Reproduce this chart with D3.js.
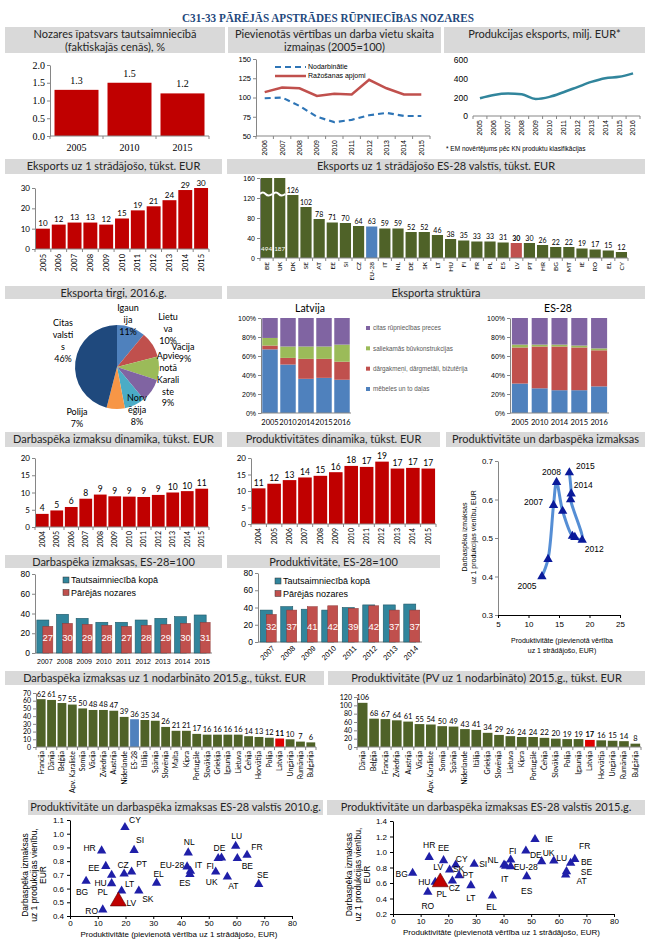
<!DOCTYPE html>
<html lang="lv">
<head>
<meta charset="UTF-8"/>
<title>C31-33 Pārējās apstrādes rūpniecības nozares</title>
<script src="https://d3js.org/d3.v7.min.js"></script>
<style>
    body { margin: 0; background: #fff; }
</style>
</head>
<body>
<div id="chart"></div>
<script>
// ---- data ----
var shareYears = ["2005", "2010", "2015"];
var shareVals = [1.3, 1.5, 1.2];

var idxYears = ["2006","2007","2008","2009","2010","2011","2012","2013","2014","2015"];
var idxEmployed = [99, 100, 89, 75, 68, 71, 77, 80, 76, 76];
var idxOutput = [107, 113, 112, 102, 105, 104, 123, 112, 104, 104];

var expYears = ["2005","2006","2007","2008","2009","2010","2011","2012","2013","2014","2015","2016"];
var expVals = [190, 225, 240, 232, 182, 205, 255, 310, 365, 405, 420, 457];

var pwYears = ["2005","2006","2007","2008","2009","2010","2011","2012","2013","2014","2015"];
var pwVals = [10, 12, 13, 13, 12, 15, 19, 21, 24, 29, 30];

var euCodes = ["BE","UK","DK","SE","AT","EE","SI","CZ","EU-28","IT","NL","DE","SK","LT","HU","FI","FR","PL","ES","LV","PT","HR","BG","MT","IE","RO","EL","CY"];
var euExport = [494, 187, 126, 102, 78, 71, 70, 64, 63, 59, 59, 52, 52, 46, 38, 35, 33, 33, 31, 30, 30, 26, 22, 22, 19, 17, 15, 12];

var mktNames = ["Igaunija", "Lietuva", "Vācija", "Apvienotā Karaliste", "Norvēģija", "Polija", "Citas valstis"];
var mktShare = [11, 10, 9, 9, 8, 7, 46];
var mktLabelParts = [["Igaun","ija"], ["Lietu","va"], ["Vācija"], ["Apvie","notā","Karali","ste"], ["Norv","ēģija"], ["Polija"], ["Citas","valsti","s"]];

var structYears = ["2005", "2010", "2014", "2015", "2016"];
var structNames = ["mēbeles un to daļas", "dārgakmeņi, dārgmetāli, bižutērija", "saliekamās būvkonstrukcijas", "citas rūpniecības preces"];
var lvMebeles = [67, 51, 36, 37, 35];
var lvDarg = [4, 7, 21, 20, 19];
var lvSaliek = [8, 12, 13, 13, 18];
var lvCitas = [21, 30, 30, 30, 28];
var euMebeles = [31, 26, 24, 24, 28];
var euDarg = [38, 44, 46, 45, 38];
var euSaliek = [3, 2, 2, 2, 2];
var euCitas = [28, 28, 28, 29, 32];

var dynYears = ["2004","2005","2006","2007","2008","2009","2010","2011","2012","2013","2014","2015"];
var lcDyn = [3.8, 4.8, 5.8, 8.2, 9.4, 8.9, 8.8, 8.7, 9.3, 10.0, 10.4, 11.1];
var prDyn = [10.8, 12.2, 13.3, 14.1, 14.6, 15.7, 17.6, 17.3, 18.9, 16.8, 17.0, 16.8];

var pathYears = ["2005","2006","2007","2008","2009","2010","2011","2012","2013","2014","2015"];
var pathProd = [12.2, 13.2, 14.1, 14.6, 15.6, 17.2, 17.6, 18.8, 16.9, 17.0, 16.7];
var pathCost = [0.40, 0.445, 0.585, 0.645, 0.57, 0.505, 0.502, 0.495, 0.60, 0.615, 0.67];
var pathLabelled = ["2005", "2007", "2008", "2012", "2014", "2015"];

var lcYears = ["2007","2008","2009","2010","2011","2012","2013","2014","2015"];
var lcTotal = [33.4, 39.2, 35.1, 31.1, 31.1, 33.4, 35.1, 36.8, 38.5];
var lcSector = [27, 30, 29, 28, 27, 28, 29, 30, 31];
var prYears = ["2007","2008","2009","2010","2011","2012","2013","2014"];
var prTotal = [37, 41, 38, 37, 40, 43, 43, 44];
var prSector = [32, 37, 41, 42, 39, 42, 37, 37];
var seriesNames = ["Tautsaimniecībā kopā", "Pārējās nozares"];

var lc15Names = ["Francija","Dānija","Beļģija","Apv. Karaliste","Somija","Vācija","Zviedrija","Austrija","Nīderlande","ES-28","Itālija","Spānija","Slovēnija","Malta","Kipra","Portugāle","Slovākija","Grieķija","Igaunija","Lietuva","Čehija","Horvātija","Polija","Latvija","Ungārija","Rumānija","Bulgārija"];
var lc15Vals = [62, 61, 57, 55, 50, 48, 48, 47, 39, 36, 35, 34, 26, 21, 21, 17, 16, 16, 16, 16, 14, 13, 12, 11, 10, 7, 6];
var pr15Names = ["Dānija","Beļģija","Francija","Zviedrija","Austrija","Vācija","Apv. Karaliste","Somija","Spānija","Nīderlande","Itālija","Grieķija","Slovēnija","Lietuva","Kipra","Portugāle","Čehija","Slovākija","Polija","Igaunija","Latvija","Horvātija","Ungārija","Rumānija","Bulgārija"];
var pr15Vals = [106, 68, 67, 64, 61, 55, 54, 50, 49, 43, 41, 34, 29, 26, 24, 24, 22, 20, 19, 19, 17, 16, 15, 14, 8];

var sc10Codes = ["CY","SI","HR","NL","LU","DE","FI","FR","BE","EE","CZ","PT","HU","PL","LT","SK","LV","RO","BG","EL","EU-28","IT","ES","UK","AT","SE"];
var sc10Prod = [19.8, 23.1, 11.4, 42.6, 59.7, 54.6, 53.4, 63.8, 60.3, 12.9, 19.5, 22.2, 15.0, 15.0, 18.6, 24.8, 17.4, 11.8, 5.8, 31.2, 42.2, 43.4, 43.2, 52.5, 56.7, 68.0];
var sc10Cost = [1.046, 0.88, 0.876, 0.861, 0.91, 0.824, 0.82, 0.844, 0.82, 0.763, 0.707, 0.722, 0.698, 0.637, 0.583, 0.583, 0.507, 0.446, 0.654, 0.641, 0.759, 0.727, 0.705, 0.722, 0.685, 0.632];
var sc15Codes = ["IE","HR","EE","DE","FI","UK","LU","FR","BE","SE","AT","NL","IT","EU-28","ES","EL","LT","SI","CY","SK","PT","CZ","HU","PL","RO","BG","LV"];
var sc15Prod = [51.4, 13.1, 18.3, 48.1, 42.6, 53.8, 58.2, 65.8, 64.3, 62.8, 62.5, 40.2, 40.8, 42.6, 48.4, 36.0, 28.2, 29.4, 22.7, 20.5, 23.9, 21.5, 15.3, 16.5, 12.6, 7.1, 17.1];
var sc15Cost = [1.164, 0.933, 0.89, 1.014, 0.898, 0.877, 0.886, 0.907, 0.856, 0.749, 0.706, 0.834, 0.82, 0.813, 0.684, 0.436, 0.568, 0.843, 0.834, 0.77, 0.697, 0.628, 0.611, 0.61, 0.483, 0.727, 0.611];

// ---- drawing ----
var ARIAL = "Liberation Sans, Arial, sans-serif",
    SERIF = "Liberation Serif, serif",
    LATO = "Lato, sans-serif",
    AX = "#868686";

var svg = d3.select("#chart").append("svg")
    .attr("width", 656).attr("height", 950)
    .attr("font-family", LATO);

function txt(x, y, s, o) {
    o = o || {};
    return svg.append("text").attr("x", x).attr("y", y).attr("dy", "0.35em")
        .attr("text-anchor", o.anchor || "middle")
        .attr("font-size", o.size || 8)
        .attr("font-family", o.font || LATO)
        .attr("font-weight", o.weight || "normal")
        .attr("fill", o.fill || "#000")
        .text(s);
}

function header(x0, x1, y0, y1, lines) {
    svg.append("rect").attr("x", x0).attr("y", y0).attr("width", x1 - x0).attr("height", y1 - y0).attr("fill", "#D9D9D9");
    lines.forEach(function (l, i) {
        txt((x0 + x1) / 2, y0 + 7.5 + i * 12.5, l, {size: 11, fill: "#262626"});
    });
}

function yAxis(y, x, vals, fmt, size, font, noLine) {
    var g = svg.append("g").attr("transform", "translate(" + x + ",0)")
        .call(d3.axisLeft(y).tickValues(vals).tickFormat(fmt).tickSize(noLine ? 0 : 3).tickSizeOuter(0));
    g.select(".domain").attr("stroke", noLine ? "none" : AX);
    g.selectAll(".tick line").attr("stroke", AX);
    g.selectAll(".tick text").attr("font-size", size).attr("font-family", font || LATO).attr("fill", "#000").attr("x", -5);
    return g;
}

function xBase(x, yb) {
    var r = x.range(), off = (x.step() - x.bandwidth()) / 2;
    svg.append("line").attr("x1", r[0]).attr("x2", r[1]).attr("y1", yb).attr("y2", yb).attr("stroke", AX);
    var b = x.domain().map(function (d) { return x(d) - off; }).concat([r[1]]);
    svg.append("g").selectAll("line").data(b).join("line")
        .attr("x1", function (d) { return d; }).attr("x2", function (d) { return d; })
        .attr("y1", yb).attr("y2", yb + 3).attr("stroke", AX);
}

function vbar(cats, vals, range, yr, max, pad, color) {
    var x = d3.scaleBand().domain(cats).range(range).paddingInner(pad).paddingOuter(pad / 2);
    var y = d3.scaleLinear().domain([0, max]).range(yr).clamp(true);
    svg.append("g").selectAll("rect").data(vals).join("rect")
        .attr("x", function (d, i) { return x(cats[i]); })
        .attr("width", x.bandwidth())
        .attr("y", function (d) { return y(d); })
        .attr("height", function (d) { return yr[0] - y(d); })
        .attr("fill", function (d, i) { return color(i); });
    return {x: x, y: y};
}

function valLabels(s, cats, vals, size, fmt, bold, skip) {
    svg.append("g").selectAll("text").data(vals).join("text")
        .attr("x", function (d, i) { return s.x(cats[i]) + s.x.bandwidth() / 2; })
        .attr("y", function (d) { return s.y(d) - 2.5; })
        .attr("text-anchor", "middle").attr("font-size", size)
        .attr("font-weight", function (d, i) { return bold && bold(i) ? "bold" : "normal"; })
        .text(function (d, i) { return skip && skip(i) ? "" : fmt(d); });
}

function catLabels(x, y, size, font, rotate) {
    svg.append("g").selectAll("text").data(x.domain()).join("text")
        .attr("transform", function (d) {
            return "translate(" + (x(d) + x.bandwidth() / 2) + "," + y + ")" + (rotate ? " rotate(-90)" : "");
        })
        .attr("text-anchor", rotate ? "end" : "middle").attr("dy", "0.35em")
        .attr("font-size", size).attr("font-family", font || LATO)
        .text(function (d) { return d; });
}

var red = function () { return "#C00000"; };
var f0 = d3.format(".0f");

// title
txt(328, 17, "C31-33 PĀRĒJĀS APSTRĀDES RŪPNIECĪBAS NOZARES", {size: 13.5, font: SERIF, weight: "bold", fill: "#1F497D"})
    .attr("textLength", 292).attr("lengthAdjust", "spacingAndGlyphs");

// ---- row 1 ----
header(5, 225, 27, 53, ["Nozares īpatsvars tautsaimniecībā", "(faktiskajās cenās), %"]);
var p1 = vbar(shareYears, shareVals, [50, 209], [136, 65], 2, 0.17, red);
yAxis(p1.y, 50, [0, 0.5, 1, 1.5, 2], d3.format(".1f"), 10, SERIF);
xBase(p1.x, 136);
catLabels(p1.x, 147, 10, SERIF, false);
svg.append("g").selectAll("text").data(shareVals).join("text")
    .attr("x", function (d, i) { return p1.x(shareYears[i]) + p1.x.bandwidth() / 2; })
    .attr("y", function (d) { return p1.y(d) - 6; })
    .attr("text-anchor", "middle").attr("font-size", 10).attr("font-family", SERIF)
    .text(function (d) { return d3.format(".1f")(d); });

header(228, 441, 27, 53, ["Pievienotās vērtības un darba vietu skaita", "izmaiņas (2005=100)"]);
var x2 = d3.scaleBand().domain(idxYears).range([256, 430]);
var y2 = d3.scaleLinear().domain([50, 150]).range([136, 59]);
yAxis(y2, 256, [50, 75, 100, 125, 150], d3.format("d"), 7.5, ARIAL);
xBase(x2, 136);
catLabels(x2, 140, 7, ARIAL, true);
var line2 = d3.line().x(function (d, i) { return x2(idxYears[i]) + x2.bandwidth() / 2; }).y(function (d) { return y2(d); });
svg.append("path").attr("d", line2(idxEmployed)).attr("fill", "none").attr("stroke", "#2E75B6").attr("stroke-width", 2.2).attr("stroke-dasharray", "6,4");
svg.append("path").attr("d", line2(idxOutput)).attr("fill", "none").attr("stroke", "#C0504D").attr("stroke-width", 2.5);
svg.append("line").attr("x1", 275).attr("x2", 306).attr("y1", 67).attr("y2", 67).attr("stroke", "#2E75B6").attr("stroke-width", 2.2).attr("stroke-dasharray", "6,4");
svg.append("line").attr("x1", 275).attr("x2", 306).attr("y1", 76).attr("y2", 76).attr("stroke", "#C0504D").attr("stroke-width", 2.5);
txt(308, 67, "Nodarbinātie", {anchor: "start", size: 7, font: ARIAL});
txt(308, 76, "Ražošanas apjomi", {anchor: "start", size: 7, font: ARIAL});

header(444, 645, 27, 53, ["Produkcijas eksports, milj. EUR*"]);
var x3 = d3.scaleBand().domain(expYears).range([473, 640]);
var y3 = d3.scaleLinear().domain([0, 600]).range([116, 60]);
yAxis(y3, 473, [0, 200, 400, 600], d3.format("d"), 8.5, ARIAL, true);
xBase(x3, 116);
catLabels(x3, 120, 7, ARIAL, true);
svg.append("path")
    .attr("d", d3.line().x(function (d, i) { return x3(expYears[i]) + x3.bandwidth() / 2; }).y(function (d) { return y3(d); }).curve(d3.curveMonotoneX)(expVals))
    .attr("fill", "none").attr("stroke", "#31859C").attr("stroke-width", 2.5);
txt(446, 149, "* EM novērtējums pēc KN produktu klasifikācijas", {anchor: "start", size: 6.5, font: ARIAL});

// ---- row 2 ----
header(5, 222, 159, 174, ["Eksports uz 1 strādājošo, tūkst. EUR"]);
var p21 = vbar(pwYears, pwVals, [35, 209], [249, 188], 30, 0.12, red);
yAxis(p21.y, 35, [0, 10, 20, 30], f0, 8);
xBase(p21.x, 249);
catLabels(p21.x, 254, 7.5, LATO, true);
valLabels(p21, pwYears, pwVals, 8, f0);

header(227, 645, 159, 174, ["Eksports uz 1 strādājošo ES-28 valstīs, tūkst. EUR"]);
var euColor = function (i) { return euCodes[i] === "EU-28" ? "#4F81BD" : euCodes[i] === "LV" ? "#C0504D" : "#4F6228"; };
var p22 = vbar(euCodes, euExport, [260, 628], [258, 178], 160, 0.15, euColor);
yAxis(p22.y, 260, [0, 40, 80, 120, 160], f0, 7, ARIAL);
xBase(p22.x, 258);
catLabels(p22.x, 262, 6.5, LATO, true);
valLabels(p22, euCodes, euExport, 7, f0,
    function (i) { return euCodes[i] === "LV"; },
    function (i) { return euExport[i] > 160; });
euExport.forEach(function (v, i) {
    if (v <= 160) return;
    var bx = p22.x(euCodes[i]), bw = p22.x.bandwidth(), by = p22.y(128);
    svg.append("path").attr("d", "M" + (bx - 1) + "," + by + " q" + (bw / 4) + ",-3 " + (bw / 2) + ",0 t" + (bw / 2 + 1) + ",0")
        .attr("fill", "none").attr("stroke", "#fff").attr("stroke-width", 2);
    txt(bx + bw / 2, 249, f0(v), {size: 6.3, fill: "#fff"});
});

// ---- row 3 ----
header(5, 222, 286, 299, ["Eksporta tirgi, 2016.g."]);
var pieColors = ["#4F81BD", "#C0504D", "#9BBB59", "#8064A2", "#4BACC6", "#F79646", "#1F497D"];
var pcx = 117, pcy = 367;
var arcs = d3.pie().sort(null).value(function (d) { return d; })(mktShare);
svg.append("g").attr("transform", "translate(" + pcx + "," + pcy + ")")
    .selectAll("path").data(arcs).join("path")
    .attr("d", d3.arc().innerRadius(0).outerRadius(42))
    .attr("fill", function (d, i) { return pieColors[i]; });
// label anchors as placed in the original (relative to pie centre)
var pieLabelAt = [[11, -59], [51, -50], [66, -20], [51, -11], [20, 31], [-40, 45], [-54, -44]];
mktShare.forEach(function (v, i) {
    var lines = mktLabelParts[i].concat([v + "%"]);
    lines.forEach(function (l, k) {
        var dx = (i === 2 && k === 1) ? 2 : 0;
        txt(pcx + pieLabelAt[i][0] + dx, pcy + pieLabelAt[i][1] + k * 11.8, l, {size: 9});
    });
});

header(227, 645, 286, 299, ["Eksporta struktūra"]);
var structColors = ["#4F81BD", "#C0504D", "#9BBB59", "#8064A2"];
function stacked(cats, series, range, yr, pad) {
    var x = d3.scaleBand().domain(cats).range(range).paddingInner(pad).paddingOuter(pad / 2);
    var y = d3.scaleLinear().domain([0, 100]).range(yr);
    var rows = cats.map(function (c, i) {
        var o = {cat: c};
        series.forEach(function (s, k) { o["s" + k] = s[i]; });
        return o;
    });
    var st = d3.stack().keys(series.map(function (s, k) { return "s" + k; }))(rows);
    svg.append("g").selectAll("g").data(st).join("g").attr("fill", function (d, k) { return structColors[k]; })
        .selectAll("rect").data(function (d) { return d; }).join("rect")
        .attr("x", function (d) { return x(d.data.cat); }).attr("width", x.bandwidth())
        .attr("y", function (d) { return y(d[1]); }).attr("height", function (d) { return y(d[0]) - y(d[1]); });
    yAxis(y, range[0], [0, 20, 40, 60, 80, 100], function (d) { return d + "%"; }, 7, ARIAL);
    svg.append("line").attr("x1", range[0]).attr("x2", range[1]).attr("y1", yr[0]).attr("y2", yr[0]).attr("stroke", AX);
    catLabels(x, 422, 7.5, LATO, false);
    return x;
}
stacked(structYears, [lvMebeles, lvDarg, lvSaliek, lvCitas], [261, 351], [413, 318], 0.14);
txt(310, 308, "Latvija", {size: 10.5});
stacked(structYears, [euMebeles, euDarg, euSaliek, euCitas], [510, 609], [413, 318], 0.19);
txt(558, 308, "ES-28", {size: 10.5});
var legY = d3.scalePoint().domain(structNames.slice().reverse()).range([328, 389]);
structNames.forEach(function (n, k) {
    svg.append("rect").attr("x", 366).attr("y", legY(n) - 2).attr("width", 4).attr("height", 4).attr("fill", structColors[k]);
    txt(373, legY(n), n, {anchor: "start", size: 6.3, font: ARIAL, fill: "#595959"});
});

// ---- row 4 ----
header(5, 222, 432, 447, ["Darbaspēka izmaksu dinamika, tūkst. EUR"]);
var p41 = vbar(dynYears, lcDyn, [35, 209], [527, 458], 20, 0.12, red);
yAxis(p41.y, 35, [0, 5, 10, 15, 20], f0, 8);
xBase(p41.x, 527);
catLabels(p41.x, 531, 7, LATO, true);
valLabels(p41, dynYears, lcDyn, 8.5, f0);

header(227, 440, 432, 447, ["Produktivitātes dinamika, tūkst. EUR"]);
var p42 = vbar(dynYears, prDyn, [251, 436], [524, 458], 20, 0.12, red);
yAxis(p42.y, 251, [0, 5, 10, 15, 20], f0, 8);
xBase(p42.x, 524);
catLabels(p42.x, 528, 7, LATO, true);
valLabels(p42, dynYears, prDyn, 8.5, f0);

header(446, 645, 432, 447, ["Produktivitāte un darbaspēka izmaksas"]);
var x43 = d3.scaleLinear().domain([5, 25]).range([498, 620]);
var y43 = d3.scaleLinear().domain([0.3, 0.7]).range([615, 461]);
yAxis(y43, 498, [0.3, 0.4, 0.5, 0.6, 0.7], d3.format(".1f"), 8, ARIAL);
var gx43 = svg.append("g").attr("transform", "translate(0,615)")
    .call(d3.axisBottom(x43).tickValues([5, 10, 15, 20, 25]).tickSize(3).tickSizeOuter(0));
gx43.selectAll("path,line").attr("stroke", "#000");
gx43.selectAll("text").attr("font-size", 8).attr("font-family", ARIAL);
svg.append("path")
    .attr("d", d3.line().x(function (d, i) { return x43(pathProd[i]); }).y(function (d) { return y43(d); }).curve(d3.curveCatmullRom)(pathCost))
    .attr("fill", "none").attr("stroke", "#558ED5").attr("stroke-width", 3);
svg.append("g").selectAll("path").data(pathCost).join("path")
    .attr("transform", function (d, i) { return "translate(" + x43(pathProd[i]) + "," + y43(d) + ")"; })
    .attr("d", d3.symbol().type(d3.symbolTriangle).size(38)).attr("fill", "#0A1A9A");
var pathLabelOff = {"2005": [-15, 10], "2007": [-20, -3], "2008": [-5, -10], "2012": [12, 9], "2014": [12, -9], "2015": [16, -7]};
pathLabelled.forEach(function (yr) {
    var i = pathYears.indexOf(yr);
    txt(x43(pathProd[i]) + pathLabelOff[yr][0], y43(pathCost[i]) + pathLabelOff[yr][1], yr, {size: 8.5, font: ARIAL});
});
txt(465, 537, "Darbaspēka izmaksas", {size: 7, font: ARIAL}).attr("transform", "rotate(-90,465,537)");
txt(474, 537, "uz 1 produkcijas vienību, EUR", {size: 7, font: ARIAL}).attr("transform", "rotate(-90,474,537)");
txt(562, 641, "Produktivitāte (pievienotā vērtība", {size: 7, font: ARIAL});
txt(562, 651, "uz 1 strādājošo, EUR)", {size: 7, font: ARIAL});

// ---- row 5 ----
function grouped(cats, tot, sec, range, yr, max, axisX, rotate) {
    var x = d3.scaleBand().domain(cats).range(range);
    var y = d3.scaleLinear().domain([0, max]).range(yr);
    var c = function (i) { return x(cats[i]) + x.bandwidth() / 2; };
    yAxis(y, axisX, [0, 20, 40, 60, 80], f0, 8.5, ARIAL);
    svg.append("line").attr("x1", axisX).attr("x2", range[1]).attr("y1", yr[0]).attr("y2", yr[0]).attr("stroke", AX);
    svg.append("g").selectAll("rect").data(tot).join("rect")
        .attr("x", function (d, i) { return c(i) - 8; }).attr("width", 12)
        .attr("y", function (d) { return y(d); }).attr("height", function (d) { return yr[0] - y(d); })
        .attr("fill", "#31859C").attr("stroke", "#205867").attr("stroke-width", 0.6);
    svg.append("g").selectAll("rect").data(sec).join("rect")
        .attr("x", function (d, i) { return c(i) - 2; }).attr("width", 10)
        .attr("y", function (d) { return y(d); }).attr("height", function (d) { return yr[0] - y(d); })
        .attr("fill", "#C0504D").attr("stroke", "#8C3836").attr("stroke-width", 0.5);
    sec.forEach(function (v, i) { txt(c(i) + 3, yr[0] - 15, f0(v), {size: 9.5, font: ARIAL, fill: "#fff"}); });
    if (rotate) {
        svg.append("g").selectAll("text").data(cats).join("text")
            .attr("transform", function (d, i) { return "translate(" + (c(i) + 5) + "," + (yr[0] + 5) + ") rotate(-45)"; })
            .attr("text-anchor", "end").attr("dy", "0.35em").attr("font-size", 7.5).attr("font-family", ARIAL)
            .text(function (d) { return d; });
    } else {
        cats.forEach(function (d, i) { txt(c(i), yr[0] + 9, d, {size: 7, font: ARIAL}); });
    }
}
function legend(x, y0) {
    ["#31859C", "#C0504D"].forEach(function (col, k) {
        svg.append("rect").attr("x", x).attr("y", y0 + k * 12.5 - 3).attr("width", 6).attr("height", 6)
            .attr("fill", col).attr("stroke", "#333").attr("stroke-width", 0.5);
        txt(x + 8, y0 + k * 12.5, seriesNames[k], {anchor: "start", size: 9, font: ARIAL});
    });
}
header(5, 222, 555, 568, ["Darbaspēka izmaksas, ES-28=100"]);
grouped(lcYears, lcTotal, lcSector, [35, 212], [653, 574], 80, 35, false);
legend(63, 580);

header(227, 440, 555, 568, ["Produktivitāte, ES-28=100"]);
grouped(prYears, prTotal, prSector, [258, 422], [642, 573], 80, 258, true);
legend(275, 581);

// ---- row 6 ----
header(5, 324, 671, 685, ["Darbaspēka izmaksas uz 1 nodarbināto 2015.g., tūkst. EUR"]);
var c6a = function (i) { return lc15Names[i] === "ES-28" ? "#4F81BD" : lc15Names[i] === "Latvija" ? "#E00000" : "#4F6228"; };
var p61 = vbar(lc15Names, lc15Vals, [36, 316], [747, 693], 70, 0.15, c6a);
yAxis(p61.y, 36, [0, 10, 20, 30, 40, 50, 60, 70], f0, 7);
xBase(p61.x, 747);
catLabels(p61.x, 751, 7, LATO, true);
valLabels(p61, lc15Names, lc15Vals, 7.5, f0, function (i) { return lc15Names[i] === "Latvija"; });

header(328, 645, 671, 685, ["Produktivitāte (PV uz 1 nodarbināto) 2015.g., tūkst. EUR"]);
var c6b = function (i) { return pr15Names[i] === "Latvija" ? "#E00000" : "#4F6228"; };
var p62 = vbar(pr15Names, pr15Vals, [357, 641], [747, 697], 120, 0.15, c6b);
yAxis(p62.y, 357, [0, 20, 40, 60, 80, 100, 120], f0, 7);
xBase(p62.x, 747);
catLabels(p62.x, 751, 7, LATO, true);
valLabels(p62, pr15Names, pr15Vals, 7.5, f0, function (i) { return pr15Names[i] === "Latvija"; });

// ---- row 7 ----
function scatter(codes, xs, ys, xr, yr, ydom, yticks, off, titleX) {
    var x = d3.scaleLinear().domain([0, 80]).range(xr);
    var y = d3.scaleLinear().domain(ydom).range(yr);
    var gy = svg.append("g").attr("transform", "translate(" + xr[0] + ",0)")
        .call(d3.axisLeft(y).tickValues(yticks).tickFormat(d3.format(".1f")).tickSize(3).tickSizeOuter(0));
    var gx = svg.append("g").attr("transform", "translate(0," + yr[0] + ")")
        .call(d3.axisBottom(x).tickValues(d3.range(0, 81, 10)).tickSize(3).tickPadding(1.5).tickSizeOuter(0));
    [gx, gy].forEach(function (g) {
        g.selectAll("path,line").attr("stroke", "#000");
        g.selectAll("text").attr("font-size", 8).attr("font-family", ARIAL).attr("fill", "#000");
    });
    codes.forEach(function (c, i) {
        var lv = c === "LV";
        svg.append("path").attr("transform", "translate(" + x(xs[i]) + "," + y(ys[i]) + ")")
            .attr("d", d3.symbol().type(d3.symbolTriangle).size(lv ? 110 : 38))
            .attr("fill", lv ? "#C00000" : "#1F1FA8").attr("stroke", lv ? "#5A0000" : "none").attr("stroke-width", 0.6);
        var o = off[c] || [10, 0];
        txt(x(xs[i]) + o[0], y(ys[i]) + o[1], c, {size: 8.5, font: ARIAL});
    });
    var ym = (yr[0] + yr[1]) / 2 + 7;
    ["Darbaspēka izmaksas", "uz 1 produkcijas vienību,", "EUR"].forEach(function (l, k) {
        var tx = titleX + k * 9;
        txt(tx, ym, l, {size: 8.5, font: ARIAL}).attr("transform", "rotate(-90," + tx + "," + ym + ")");
    });
    txt((xr[0] + xr[1]) / 2 - 2, yr[0] + 18, "Produktivitāte (pievienotā vērtība uz 1 strādājošo, EUR)", {size: 8, font: ARIAL});
}
var off10 = {"CY": [10, -7], "SI": [6, -10], "HR": [-12, -3], "NL": [1, -11], "LU": [1, -10], "DE": [-2, -10], "FI": [-8, 8],
    "FR": [10, -8], "BE": [10, 8], "EE": [-12, 2], "CZ": [-1, -9], "PT": [10, -8], "HU": [-11, 8], "PL": [-9, 9], "LT": [8, -7],
    "SK": [9, 8], "LV": [13, 2], "RO": [-11, 1], "BG": [-4, 11], "EL": [2, -9], "EU-28": [-15, -2], "IT": [8, -6], "ES": [-5, 9],
    "UK": [-4, 10], "AT": [6, 9], "SE": [4, -9]};
var off15 = {"IE": [14, 0], "HR": [0, -12], "EE": [0, -13], "DE": [10, 4], "FI": [2, -9], "UK": [7, -9], "LU": [8, -3],
    "FR": [10, -13], "BE": [16, -1], "SE": [20, 1], "AT": [16, 6], "NL": [-11, -5], "IT": [-1, 13], "EU-28": [15, 1],
    "ES": [0, 15], "EL": [-1, 11], "LT": [0, 13], "SI": [9, 0], "CY": [6, -6], "SK": [9, -1], "PT": [9, 0], "CZ": [2, 7],
    "HU": [-11, 0], "PL": [3, 12], "RO": [0, 14], "BG": [-11, 1], "LV": [-2, -15]};
header(28, 323, 800, 815, ["Produktivitāte un darbaspēka izmaksas ES-28 valstīs 2010.g."]);
scatter(sc10Codes, sc10Prod, sc10Cost, [70, 292], [916, 820], [0.4, 1.1], d3.range(4, 12).map(function (d) { return d / 10; }), off10, 25);
header(327, 645, 800, 815, ["Produktivitāte un darbaspēka izmaksas ES-28 valstīs 2015.g."]);
scatter(sc15Codes, sc15Prod, sc15Cost, [393, 614], [914, 821], [0.2, 1.4], [0.2, 0.4, 0.6, 0.8, 1.0, 1.2, 1.4], off15, 349);
</script>
</body>
</html>
